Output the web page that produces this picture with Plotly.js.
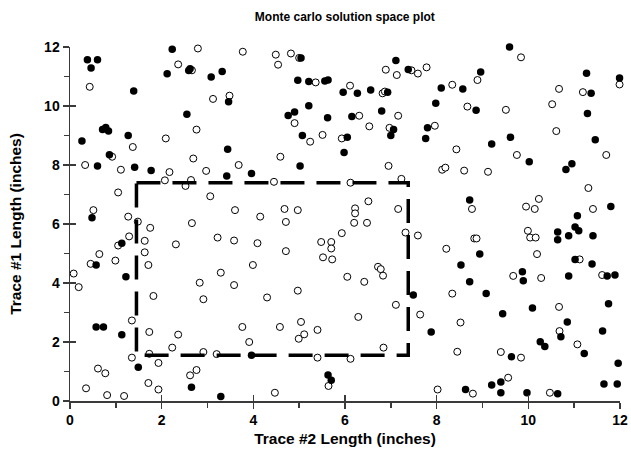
<!DOCTYPE html>
<html>
<head>
<meta charset="utf-8">
<script src="https://cdn.plot.ly/plotly-3.0.1.min.js"></script>
<style>html,body{margin:0;padding:0;background:#fff;}#chart{width:631px;height:455px;}</style>
</head>
<body>
<div id="chart"></div>
<script>
// Open (hollow) sample points: Trace #2 length (x) and Trace #1 length (y), inches
const openX = [2.79,2.36,2.66,0.43,2.76,2.09,1.37,0.92,2.69,
  3.77,4.49,4.82,5.00,4.54,5.36,3.12,3.48,4.90,5.51,5.24,5.93,4.59,
  6.89,7.13,7.45,7.59,7.78,8.89,6.11,6.82,6.87,8.34,8.67,6.31,7.16,6.53,6.97,7.96,8.43,
  9.84,11.99,10.67,11.19,10.52,9.51,10.61,9.75,11.70,
  0.33,1.11,2.17,2.97,2.07,2.64,2.52,1.05,0.51,1.27,1.48,1.75,2.66,1.29,1.05,1.63,2.31,1.63,0.64,0.45,0.99,1.71,0.08,2.83,
  3.68,4.45,3.06,3.60,4.15,4.68,4.97,4.71,5.93,3.22,3.58,4.09,4.71,5.48,5.70,5.70,5.52,5.72,3.99,3.29,3.58,
  6.12,6.95,7.23,8.12,8.19,8.60,8.77,6.51,6.22,6.22,6.20,6.48,7.16,7.32,7.59,8.82,8.87,8.21,6.72,6.78,6.83,6.05,6.42,
  9.12,11.31,10.23,9.95,10.14,11.41,9.99,10.04,10.16,10.19,11.12,9.67,10.28,11.61,
  0.19,1.82,2.91,1.35,1.73,2.36,2.23,2.91,1.35,1.73,1.93,0.61,0.77,2.76,2.62,0.35,1.71,1.93,0.81,1.18,
  4.30,4.97,3.76,4.58,5.04,5.11,4.99,5.40,3.91,3.20,5.40,5.64,4.47,
  8.34,7.11,6.29,7.64,8.52,6.84,8.45,6.12,8.02,8.79,
  10.67,10.68,11.07,9.40,9.84,9.56,10.47];
const openY = [11.95,11.41,11.21,10.65,9.20,8.90,8.61,8.28,8.22,
  11.84,11.74,11.78,11.63,11.40,10.80,10.24,10.35,9.42,9.02,8.79,8.90,8.28,
  11.23,11.05,11.21,11.10,11.31,10.88,10.69,10.43,10.49,10.72,9.98,9.67,9.67,9.31,9.26,9.33,8.53,
  11.65,10.73,10.58,10.47,10.06,9.87,9.15,8.34,8.34,
  8.00,7.84,7.76,7.80,7.48,7.49,7.29,7.07,6.47,6.25,6.08,5.87,6.03,5.58,5.27,5.43,5.31,5.04,4.98,4.65,4.76,4.61,4.32,4.01,
  8.00,7.43,6.94,6.47,6.25,6.51,6.47,6.07,5.69,5.54,5.44,5.35,5.08,5.39,5.39,5.17,4.87,4.80,4.61,4.35,3.93,
  7.40,7.97,7.53,7.84,7.91,7.81,6.51,6.77,6.53,6.36,6.04,6.04,6.51,5.71,5.61,5.51,5.51,5.16,4.55,4.47,4.25,4.21,4.04,
  7.77,7.22,6.85,6.59,6.51,6.51,5.77,5.54,5.54,4.98,4.80,4.24,4.17,4.27,
  3.86,3.56,3.45,2.73,2.34,2.25,1.81,1.66,1.47,1.60,1.29,1.10,0.94,1.05,0.87,0.43,0.61,0.39,0.20,0.17,
  3.51,3.74,2.51,2.51,2.68,2.26,2.11,2.41,2.00,1.59,1.47,0.51,0.28,
  3.64,3.26,2.85,2.93,2.66,1.81,1.67,1.43,0.39,0.25,
  3.19,2.37,1.92,1.66,1.47,0.79,0.28];

// Filled (solid) sample points
const filledX = [2.23,0.38,0.60,0.46,2.12,2.59,2.62,1.39,2.55,0.71,0.78,0.84,1.27,0.26,0.86,
  5.04,3.32,3.08,4.97,5.21,5.56,5.63,5.96,3.46,5.21,4.90,4.76,5.62,5.07,5.98,3.44,
  7.11,7.38,8.96,6.27,6.56,6.93,8.10,8.57,7.98,8.86,6.80,6.15,7.06,7.00,7.80,7.76,6.05,
  9.59,11.27,11.99,11.37,11.29,9.61,9.20,11.46,10.02,10.95,
  0.60,1.41,1.77,0.48,1.13,0.57,1.22,
  3.42,3.96,5.02,
  8.72,8.94,8.53,8.72,
  10.82,11.80,11.07,11.02,11.10,10.64,10.64,10.88,11.41,11.02,11.39,9.87,9.89,10.88,11.72,11.89,
  0.57,0.73,1.13,1.49,2.65,
  3.96,5.63,5.70,3.29,
  7.49,7.88,8.63,
  9.08,9.44,10.09,11.75,10.85,10.71,11.62,10.26,10.36,11.22,9.63,11.96,9.20,9.40,9.40,9.97,10.64,11.65,11.94];
const filledY = [11.92,11.57,11.57,11.29,11.09,11.20,11.26,10.51,9.72,9.20,9.27,9.15,9.00,8.81,8.35,
  11.63,11.17,10.98,10.87,10.83,10.85,10.88,10.47,10.14,10.01,9.80,9.68,9.60,9.00,8.42,8.53,
  11.54,11.24,11.15,10.43,10.54,10.47,10.61,10.58,10.09,9.86,9.83,9.64,9.20,9.00,9.26,8.90,8.94,
  12.00,11.11,10.95,10.43,9.75,8.94,8.71,8.86,8.11,8.04,
  7.97,7.92,7.81,6.21,5.35,4.61,4.21,
  7.63,7.71,7.97,
  6.81,4.98,4.61,4.04,
  7.85,6.59,6.28,5.90,5.77,5.73,5.47,5.60,5.60,4.80,4.64,4.38,4.08,4.24,4.24,4.27,
  2.51,2.51,2.25,1.14,0.47,
  1.55,0.88,0.70,0.15,
  3.59,2.34,0.39,
  3.64,2.96,3.15,3.30,2.68,2.18,2.37,2.01,1.85,1.61,1.50,1.28,0.54,0.64,0.28,0.28,0.25,0.58,0.58];

// Solution-space rectangle (dashed)
const boxX = [1.45, 7.38, 7.38, 1.45, 1.45];
const boxY = [7.40, 7.40, 1.55, 1.55, 7.40];

const tickVals = [0, 2, 4, 6, 8, 10, 12];
const tickText = ['0', '2', '4', '6', '8', '10', '12'];

const axisColor = '#3a3a3a';
const fam = 'Liberation Sans, Arial, sans-serif';
const tickFont = {family: fam, size: 14, color: '#000', weight: 'bold'};
const axTitleFont = {family: fam, size: 15.5, color: '#000', weight: 'bold'};

const traces = [
  {x: openX, y: openY, type: 'scatter', mode: 'markers', cliponaxis: false,
   marker: {symbol: 'circle', size: 7, color: '#ffffff', line: {color: '#000', width: 1}},
   hoverinfo: 'x+y'},
  {x: filledX, y: filledY, type: 'scatter', mode: 'markers', cliponaxis: false,
   marker: {symbol: 'circle', size: 7.5, color: '#000000', line: {color: '#000', width: 0}},
   hoverinfo: 'x+y'},
  {x: boxX, y: boxY, xaxis: 'x2', yaxis: 'y2', type: 'scatter', mode: 'lines', cliponaxis: false,
   line: {color: '#000', width: 3.5, dash: '24px,12px'}, hoverinfo: 'skip'}
];

const layout = {
  width: 631, height: 455,
  margin: {l: 70, r: 11, t: 47, b: 54},
  paper_bgcolor: '#fff', plot_bgcolor: '#fff',
  showlegend: false,
  title: {text: 'Monte carlo solution space plot', x: 0.5465, xanchor: 'center', y: 0.962, yanchor: 'middle',
          font: {family: fam, size: 12, color: '#000', weight: 'bold'}},
  xaxis: {range: [0, 12], tickvals: tickVals, ticktext: tickText, showgrid: false, zeroline: false,
          showline: true, linecolor: axisColor, linewidth: 1.5,
          ticks: 'outside', ticklen: 6, tickwidth: 1.5, tickcolor: axisColor,
          minor: {dtick: 1, ticks: 'outside', ticklen: 5, tickwidth: 1.5, tickcolor: axisColor, showgrid: false},
          tickfont: tickFont,
          title: {text: 'Trace #2 Length (inches)', standoff: 6, font: axTitleFont}},
  yaxis: {range: [0, 12], tickvals: tickVals, ticktext: tickText, showgrid: false, zeroline: false,
          showline: true, linecolor: axisColor, linewidth: 1.5,
          ticks: 'outside', ticklen: 6, tickwidth: 1.5, tickcolor: axisColor,
          minor: {dtick: 1, ticks: 'outside', ticklen: 5, tickwidth: 1.5, tickcolor: axisColor, showgrid: false},
          tickfont: tickFont,
          title: {text: 'Trace #1 Length (inches)', standoff: 18, font: axTitleFont}},
  xaxis2: {overlaying: 'x', range: [0, 12], tickvals: tickVals, showticklabels: false, showgrid: false,
           zeroline: false, showline: false, ticks: 'inside', ticklen: 6, tickwidth: 1.5, tickcolor: axisColor,
           side: 'bottom', anchor: 'y2'},
  yaxis2: {overlaying: 'y', range: [0, 12], tickvals: tickVals, showticklabels: false, showgrid: false,
           zeroline: false, showline: false, ticks: 'inside', ticklen: 6, tickwidth: 1.5, tickcolor: axisColor,
           side: 'left', anchor: 'x2'}
};

Plotly.newPlot('chart', traces, layout, {displayModeBar: false, staticPlot: true});
</script>
</body>
</html>
